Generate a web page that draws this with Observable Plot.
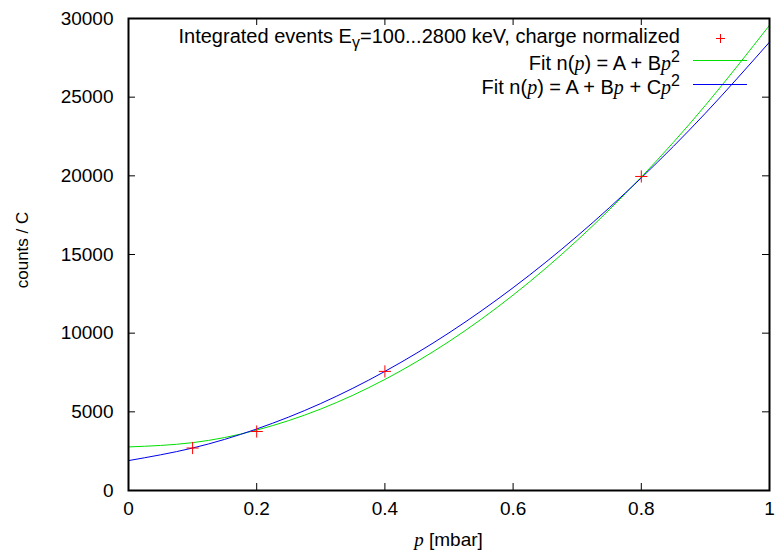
<!DOCTYPE html>
<html><head><meta charset="utf-8">
<script src="https://cdn.jsdelivr.net/npm/d3@7"></script>
<script src="https://cdn.jsdelivr.net/npm/@observablehq/plot@0.6"></script>
<style>
body{margin:0;background:#fff;}
#wrap{position:relative;width:776px;height:559px;font-family:"Liberation Sans",Arial,sans-serif;}
.ov{position:absolute;font-size:19px;color:#000;white-space:nowrap;line-height:1;}
.ip{font-family:"Liberation Serif","DejaVu Serif",serif;font-style:italic;}
sub{font-size:80%;line-height:0;vertical-align:-0.3em;}
sup{font-size:80%;line-height:0;vertical-align:0.5em;}
.leg{right:96px;text-align:right;font-size:20px;}
</style></head>
<body><div id="wrap"></div>
<script>
// measured data points
const pressure = [0.1, 0.2, 0.4, 0.8];
const counts = [2700, 3750, 7570, 19960];
// fit curves at p = 0, 0.1, ..., 1.0
const curveP = [0, 0.1, 0.2, 0.3, 0.4, 0.5, 0.6, 0.7, 0.8, 0.9, 1.0];
const fitQuad = [2770, 3040, 3840, 5180, 7060, 9470, 12420, 15900, 19920, 24480, 29570];
const fitFull = [1900, 2700, 3910, 5530, 7570, 10020, 12890, 16170, 19870, 23980, 28500];
const xTicks = [0, 0.2, 0.4, 0.6, 0.8, 1];
const yTicks = [0, 5000, 10000, 15000, 20000, 25000, 30000];

const pts = pressure.map((p, i) => ({p, c: counts[i]}));
const g = curveP.map((p, i) => ({p, c: fitQuad[i]}));
const b = curveP.map((p, i) => ({p, c: fitFull[i]}));

const W = 776, H = 559, mL = 128, mR = 7, mT = 18, mB = 69;
const ph = H - mT - mB, pw = W - mL - mR, tk = 7;

const chart = Plot.plot({
  width: W, height: H,
  marginLeft: mL, marginRight: mR, marginTop: mT, marginBottom: mB,
  style: {fontFamily: '"Liberation Sans", Arial, sans-serif', fontSize: "19px", background: "#fff", color: "#000"},
  x: {domain: [0, 1]},
  y: {domain: [0, 30000]},
  marks: [
    Plot.line(g, {x: "p", y: "c", stroke: "#00e000", strokeWidth: 1, curve: "natural"}),
    Plot.line(b, {x: "p", y: "c", stroke: "#0000f0", strokeWidth: 1, curve: "natural"}),
    Plot.dot(pts, {x: "p", y: "c", symbol: "plus", r: 4, stroke: "#ff0000", strokeWidth: 1}),
    Plot.tickX(xTicks, {x: d => d, insetTop: ph - tk, stroke: "#000", strokeWidth: 1}),
    Plot.tickX(xTicks, {x: d => d, insetBottom: ph - tk, stroke: "#000", strokeWidth: 1}),
    Plot.tickY(yTicks, {y: d => d, insetRight: pw - tk, stroke: "#000", strokeWidth: 1}),
    Plot.tickY(yTicks, {y: d => d, insetLeft: pw - tk, stroke: "#000", strokeWidth: 1}),
    Plot.axisX(xTicks, {tickSize: 0, tickPadding: 11, label: null, tickFormat: d => String(d)}),
    Plot.axisY(yTicks, {tickSize: 0, tickPadding: 15, label: null, tickFormat: d => String(d)}),
    Plot.frame({stroke: "#000", strokeWidth: 2})
  ]
});
const wrap = document.getElementById("wrap");
wrap.appendChild(chart);

const legend = [
  {html: 'Integrated events E<sub>γ</sub>=100...2800 keV, charge normalized', top: 26, mid: 37.5, sw: "plus", color: "#ff0000"},
  {html: 'Fit n(<span class="ip">p</span>) = A + B<span class="ip">p</span><sup>2</sup>', top: 53, mid: 60, sw: "line", color: "#00e000"},
  {html: 'Fit n(<span class="ip">p</span>) = A + B<span class="ip">p</span> + C<span class="ip">p</span><sup>2</sup>', top: 77, mid: 84, sw: "line", color: "#0000f0"}
];
for (const L of legend) {
  const d = document.createElement("div");
  d.className = "ov leg"; d.style.top = L.top + "px"; d.innerHTML = L.html;
  wrap.appendChild(d);
  const s = document.createElement("div");
  if (L.sw === "line") {
    s.style.cssText = `position:absolute;left:693px;width:54px;top:${L.mid}px;height:0;border-top:1px solid ${L.color};`;
  } else {
    s.style.cssText = `position:absolute;left:716px;top:${L.mid - 4}px;width:9px;height:9px;`;
    s.innerHTML = `<svg width="9" height="9" style="display:block"><path d="M0,4.5H9M4.5,0V9" stroke="${L.color}" stroke-width="1"/></svg>`;
  }
  wrap.appendChild(s);
}
const xl = document.createElement("div");
xl.className = "ov"; xl.style.cssText = "left:0;width:" + (mL*2 + pw) + "px;text-align:center;top:530px;";
xl.innerHTML = '<span class="ip">p</span> [mbar]';
wrap.appendChild(xl);
const yl = document.createElement("div");
yl.className = "ov"; yl.style.cssText = "left:22px;top:250px;font-size:17px;transform:translate(-50%,-50%) rotate(-90deg);";
yl.textContent = "counts / C";
wrap.appendChild(yl);
</script></body></html>
